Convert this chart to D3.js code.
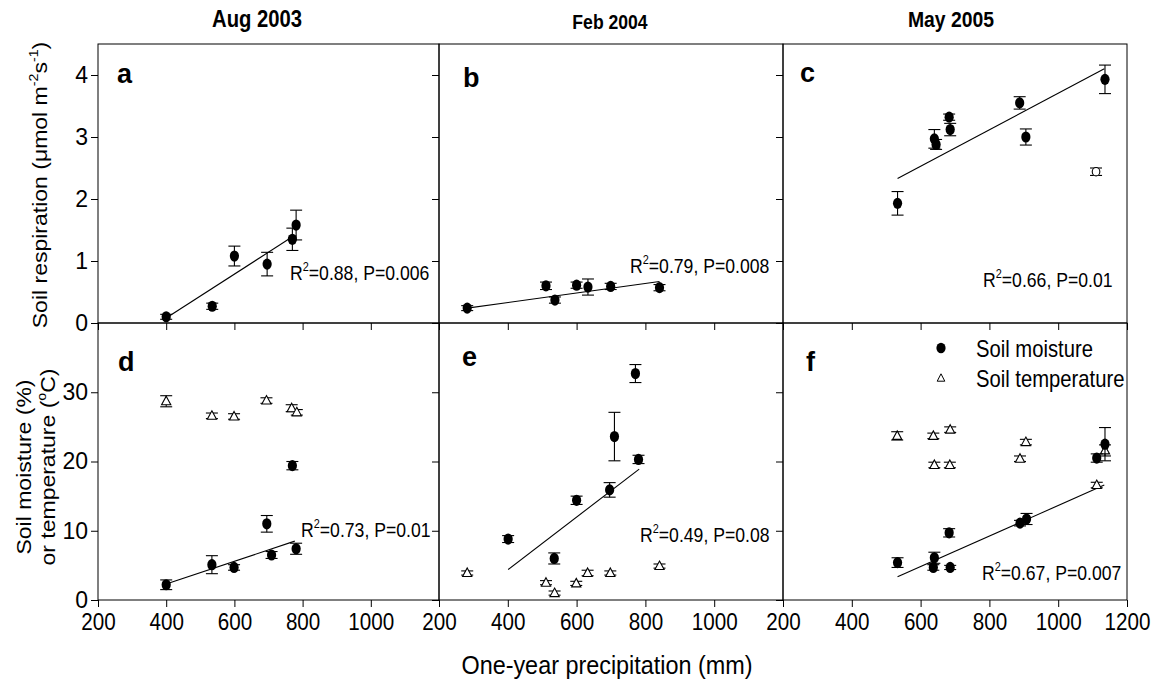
<!DOCTYPE html>
<html><head><meta charset="utf-8">
<script src="https://cdn.jsdelivr.net/npm/d3@7"></script>
<style>body{margin:0;background:#fff;} svg{display:block;}</style>
</head><body>
<svg id="chart" width="1165" height="696"></svg>
<script>
// ---------------- data ----------------
const xTicks = [200, 400, 600, 800, 1000, 1200];
const respTicks = [0, 1, 2, 3, 4];
const soilTicks = [0, 10, 20, 30];
const months = ["Aug 2003", "Feb 2004", "May 2005"];
const lettersTop = ["a", "b", "c"];
const lettersBottom = ["d", "e", "f"];

// Aug 2003
const respAugX = [400, 535, 600, 696, 770, 781];
const respAugY = [0.10, 0.27, 1.08, 0.95, 1.35, 1.58];
const respAugE = [0.04, 0.05, 0.16, 0.19, 0.18, 0.24];
const moistAugX = [400, 534, 599, 695, 709, 770, 781];
const moistAugY = [2.2, 5.1, 4.7, 11.0, 6.5, 19.4, 7.4];
const moistAugE = [0.7, 1.3, 0.4, 1.2, 0.5, 0.6, 0.8];
const tempAugX = [400, 534, 599, 694, 768, 783];
const tempAugY = [28.7, 26.6, 26.5, 28.8, 27.7, 27.1];
const tempAugE = [0.8, 0.4, 0.4, 0.4, 0.5, 0.4];
// Feb 2004
const respFebX = [282, 511, 537, 600, 633, 699, 841];
const respFebY = [0.24, 0.60, 0.37, 0.61, 0.58, 0.59, 0.57];
const respFebE = [0.04, 0.06, 0.05, 0.05, 0.13, 0.05, 0.05];
const moistFebX = [401, 535, 600, 696, 710, 771, 780];
const moistFebY = [8.8, 6.0, 14.4, 15.9, 23.6, 32.7, 20.3];
const moistFebE = [0.5, 0.8, 0.6, 1.05, 3.5, 1.3, 0.6];
const tempFebX = [282, 511, 536, 599, 632, 698, 841];
const tempFebY = [3.9, 2.5, 1.0, 2.4, 3.9, 3.9, 4.9];
const tempFebE = [0.3, 0.3, 0.3, 0.3, 0.4, 0.3, 0.3];
// May 2005
const respMayX = [533, 640, 645, 683, 686, 888, 906, 1136];
const respMayY = [1.93, 2.97, 2.88, 3.32, 3.12, 3.55, 3.00, 3.93];
const respMayE = [0.19, 0.15, 0.08, 0.05, 0.10, 0.10, 0.13, 0.23];
const respMayOutX = [1110];
const respMayOutY = [2.44];
const respMayOutE = [0.06];
const moistMayX = [533, 637, 640, 683, 686, 889, 908, 1112, 1136];
const moistMayY = [5.4, 4.7, 6.1, 9.7, 4.7, 11.1, 11.7, 20.5, 22.5];
const moistMayE = [0.7, 0.4, 0.8, 0.6, 0.3, 0.4, 0.8, 0.6, 2.4];
const tempMayX = [532, 637, 640, 686, 685, 889, 906, 1112, 1136];
const tempMayY = [23.7, 23.7, 19.5, 24.6, 19.5, 20.4, 22.8, 16.6, 21.6];
const tempMayE = [0.6, 0.4, 0.4, 0.4, 0.4, 0.4, 0.4, 0.4, 0.8];

// fitted regression lines (start / end in data units)
const fitRespAug = [[400, 0.08], [770, 1.39]];
const fitRespFeb = [[282, 0.24], [841, 0.67]];
const fitRespMay = [[533, 2.33], [1134, 4.10]];
const fitMoistAug = [[400, 2.3], [777, 8.5]];
const fitMoistFeb = [[401, 4.4], [782, 18.9]];
const fitMoistMay = [[533, 3.35], [1134, 16.6]];

const r2Top = ["0.88", "0.79", "0.66"];
const pTop = ["0.006", "0.008", "0.01"];
const r2Bottom = ["0.73", "0.49", "0.67"];
const pBottom = ["0.01", "0.08", "0.007"];

const legendLabels = ["Soil moisture", "Soil temperature"];

// ---------------- layout ----------------
const FONT = "Arial, 'Liberation Sans', Helvetica, sans-serif";
const colX = [98, 439, 783];
const colW = [341, 344, 344];
const rowY = [44, 323];
const rowH = [279, 277];
const SX = 0.86; // horizontal condensation of texts

const svg = d3.select("#chart");

function zip(xs, ys, es) { return xs.map((x, i) => ({x, y: ys[i], e: es ? es[i] : 0})); }

function txt(parent, x, y, parts, o) {
  o = o || {};
  const size = o.size || 22;
  let tr = `translate(${x},${y}) scale(${o.sx == null ? 1 : o.sx},1)`;
  if (o.rot) tr += ` rotate(${o.rot})`;
  const t = parent.append("g").attr("transform", tr).append("text")
    .attr("text-anchor", o.anchor || "start")
    .attr("font-family", FONT)
    .attr("font-size", size)
    .attr("font-weight", o.weight || "normal")
    .attr("fill", "#000");
  const shift = size * 0.42;
  let pending = 0;
  parts.forEach(p => {
    const sup = typeof p !== "string";
    const ts = t.append("tspan").text(sup ? p.sup : p);
    if (sup) { ts.attr("font-size", size * 0.62).attr("dy", -shift); pending = shift; }
    else if (pending) { ts.attr("dy", pending); pending = 0; }
  });
  return t;
}

const panels = [
  {row: 0, col: 0, resp: zip(respAugX, respAugY, respAugE), fit: fitRespAug, r2: r2Top[0], p: pTop[0], letter: lettersTop[0]},
  {row: 0, col: 1, resp: zip(respFebX, respFebY, respFebE), fit: fitRespFeb, r2: r2Top[1], p: pTop[1], letter: lettersTop[1]},
  {row: 0, col: 2, resp: zip(respMayX, respMayY, respMayE), open: zip(respMayOutX, respMayOutY, respMayOutE), fit: fitRespMay, r2: r2Top[2], p: pTop[2], letter: lettersTop[2]},
  {row: 1, col: 0, resp: zip(moistAugX, moistAugY, moistAugE), tri: zip(tempAugX, tempAugY, tempAugE), fit: fitMoistAug, r2: r2Bottom[0], p: pBottom[0], letter: lettersBottom[0]},
  {row: 1, col: 1, resp: zip(moistFebX, moistFebY, moistFebE), tri: zip(tempFebX, tempFebY, tempFebE), fit: fitMoistFeb, r2: r2Bottom[1], p: pBottom[1], letter: lettersBottom[1]},
  {row: 1, col: 2, resp: zip(moistMayX, moistMayY, moistMayE), tri: zip(tempMayX, tempMayY, tempMayE), fit: fitMoistMay, r2: r2Bottom[2], p: pBottom[2], letter: lettersBottom[2]},
];

// annotation positions (layout)
const r2Pos = [[290, 280], [630, 273], [983, 287], [301, 537], [640, 542], [982, 580]];
const letterPos = [[117, 83], [463, 87], [800, 82], [118, 371], [462, 366], [806, 371]];

panels.forEach((pn, idx) => {
  const x0 = colX[pn.col], w = colW[pn.col], y0 = rowY[pn.row], h = rowH[pn.row];
  const x = d3.scaleLinear().domain([200, 1200]).range([x0, x0 + w]);
  const y = pn.row === 0
    ? d3.scaleLinear().domain([0, 4.5]).range([y0 + h, y0])
    : d3.scaleLinear().domain([0, 40]).range([y0 + h, y0]);
  const g = svg.append("g");

  // frame
  g.append("rect").attr("x", x0).attr("y", y0).attr("width", w).attr("height", h)
    .attr("fill", "none").attr("stroke", "#000").attr("stroke-width", 1);

  // y axis ticks
  const ya = d3.axisLeft(y).tickValues(pn.row === 0 ? respTicks : soilTicks)
    .tickSize(7).tickSizeOuter(0).tickPadding(3)
    .tickFormat(pn.col === 0 ? d3.format("d") : () => "");
  const yg = g.append("g").attr("transform", `translate(${x0},0)`).call(ya);
  yg.select(".domain").remove();
  yg.selectAll("line").attr("stroke", "#000");
  yg.selectAll("text").attr("font-family", FONT).attr("font-size", 23).attr("fill", "#000");

  // x axis ticks
  let fmt;
  if (pn.row === 0) fmt = () => "";
  else if (pn.col < 2) fmt = d => d === 1200 ? "" : d;
  else fmt = d => d;
  const xa = d3.axisBottom(x).tickValues(xTicks).tickSize(7).tickSizeOuter(0).tickPadding(6).tickFormat(fmt);
  const xg = g.append("g").attr("transform", `translate(0,${y0 + h})`).call(xa);
  xg.select(".domain").remove();
  xg.selectAll("line").attr("stroke", "#000");
  xg.selectAll("text").attr("font-family", FONT).attr("font-size", 24).attr("fill", "#000")
    .attr("transform", `scale(${SX},1)`);

  // regression line
  g.append("line")
    .attr("x1", x(pn.fit[0][0])).attr("y1", y(pn.fit[0][1]))
    .attr("x2", x(pn.fit[1][0])).attr("y2", y(pn.fit[1][1]))
    .attr("stroke", "#000").attr("stroke-width", 1.1);

  function errBars(data) {
    const eg = g.append("g").attr("stroke", "#000").attr("stroke-width", 1.1);
    data.forEach(d => {
      const cx = x(d.x), yt = y(d.y + d.e), yb = y(d.y - d.e);
      eg.append("line").attr("x1", cx).attr("x2", cx).attr("y1", yt).attr("y2", yb);
      eg.append("line").attr("x1", cx - 6).attr("x2", cx + 6).attr("y1", yt).attr("y2", yt);
      eg.append("line").attr("x1", cx - 6).attr("x2", cx + 6).attr("y1", yb).attr("y2", yb);
    });
  }
  const triPath = "M0,-5 L4.6,3.5 L-4.6,3.5 Z";
  if (pn.tri) {
    errBars(pn.tri);
    g.append("g").selectAll("path").data(pn.tri).join("path")
      .attr("d", triPath).attr("transform", d => `translate(${x(d.x)},${y(d.y)})`)
      .attr("fill", "#fff").attr("stroke", "#000").attr("stroke-width", 1.1);
  }
  if (pn.open) {
    errBars(pn.open);
    g.append("g").selectAll("ellipse").data(pn.open).join("ellipse")
      .attr("cx", d => x(d.x)).attr("cy", d => y(d.y)).attr("rx", 3.8).attr("ry", 4.2)
      .attr("fill", "#fff").attr("stroke", "#000").attr("stroke-width", 1.1);
  }
  errBars(pn.resp);
  g.append("g").selectAll("ellipse").data(pn.resp).join("ellipse")
    .attr("cx", d => x(d.x)).attr("cy", d => y(d.y)).attr("rx", 4.6).attr("ry", 5.6)
    .attr("fill", "#000");

  // annotations
  txt(svg, r2Pos[idx][0], r2Pos[idx][1], ["R", {sup: "2"}, `=${pn.r2}, P=${pn.p}`], {size: 21, sx: 0.84});
  txt(svg, letterPos[idx][0], letterPos[idx][1], [pn.letter], {size: 27, weight: "bold"});
});

// column titles
const titlePos = [[257, 27, 23], [610, 29, 20], [951, 27, 22]];
months.forEach((m, i) => txt(svg, titlePos[i][0], titlePos[i][1], [m], {size: titlePos[i][2], weight: "bold", anchor: "middle", sx: 0.88}));

// legend (panel f)
svg.append("ellipse").attr("cx", 941).attr("cy", 348).attr("rx", 4.6).attr("ry", 5.3).attr("fill", "#000");
svg.append("path").attr("d", "M0,-4.2 L3.8,3.2 L-3.8,3.2 Z").attr("transform", "translate(941,378)")
  .attr("fill", "#fff").attr("stroke", "#000").attr("stroke-width", 1);
txt(svg, 976, 357, [legendLabels[0]], {size: 23, sx: 0.88});
txt(svg, 976, 387, [legendLabels[1]], {size: 23, sx: 0.88});

// axis titles
txt(svg, 607, 674, ["One-year precipitation (mm)"], {size: 26, sx: 0.9, anchor: "middle"});
txt(svg, 47, 185, ["Soil respiration (\u03bcmol m", {sup: "-2"}, "s", {sup: "-1"}, ")"], {size: 23, sx: 0.9, rot: -90, anchor: "middle"});
txt(svg, 31, 467, ["Soil moisture (%)"], {size: 23, sx: 0.9, rot: -90, anchor: "middle"});
txt(svg, 55, 467, ["or temperature (", {sup: "o"}, "C)"], {size: 23, sx: 0.9, rot: -90, anchor: "middle"});
</script>
</body></html>
